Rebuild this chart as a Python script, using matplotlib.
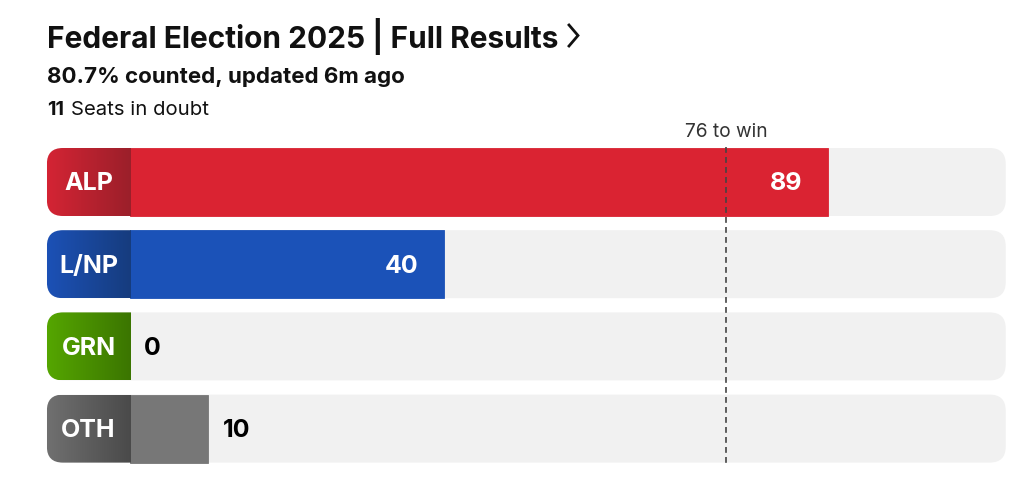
import numpy as np
import matplotlib
matplotlib.use("Agg")
import matplotlib.pyplot as plt
from matplotlib.patches import FancyBboxPatch, Rectangle
from matplotlib.colors import LinearSegmentedColormap
from matplotlib.lines import Line2D

plt.rcParams['font.family'] = ['Inter', 'DejaVu Sans']

# datos
partidos = ["ALP", "L/NP", "GRN", "OTH"]
escanos = [89, 40, 0, 10]
colores_barra = ["#da2332", "#1b52b8", "#4f9f00", "#777777"]
colores_etiqueta = [("#d42434", "#9b1f2a"), ("#1c51b6", "#163c7e"),
                    ("#55a600", "#3b7500"), ("#707070", "#4a4a4a")]
para_ganar = 76
titulo = "Federal Election 2025 | Full Results"
subtitulo = "80.7% counted, updated 6m ago"
en_duda = 11

# layout en pixeles
W, H = 1024, 481
PX = 7.84          # pixeles por escaño
X0 = 130           # pixel donde empieza el escaño 0
caja_izq = -10.6   # inicio de la caja de etiqueta (escaños)
pista_der = 111.7  # fin de la pista gris (escaños)
alto = 68
y_primera = 149
paso = 82.2
radio = 16

fig = plt.figure(figsize=(W / 100, H / 100), dpi=100)
ax = fig.add_axes([0, 0, 1, 1])
xlim = (-X0 / PX, (W - X0) / PX)
ax.axis("off")

for i, (p, v) in enumerate(zip(partidos, escanos)):
    y = y_primera + i * paso
    # pista gris
    pista = FancyBboxPatch((caja_izq, y), pista_der - caja_izq, alto,
                           boxstyle=f"round,pad=0,rounding_size={radio / PX}",
                           mutation_aspect=PX, fc="#f1f1f1", ec="none", zorder=1)
    ax.add_patch(pista)
    # barra
    if v > 0:
        ax.add_patch(Rectangle((0, y), v, alto, fc=colores_barra[i],
                               ec=colores_barra[i], lw=0.6, zorder=2))
    # caja de etiqueta con degradado
    clip = FancyBboxPatch((caja_izq, y), -caja_izq + 5, alto,
                          boxstyle=f"round,pad=0,rounding_size={radio / PX}",
                          mutation_aspect=PX, fc="none", ec="none",
                          transform=ax.transData)
    ax.add_patch(clip)
    cmap = LinearSegmentedColormap.from_list("g", colores_etiqueta[i])
    im = ax.imshow(np.linspace(0, 1, 256).reshape(1, -1), cmap=cmap,
                   extent=[caja_izq, 0, y + alto, y], aspect="auto", zorder=3)
    im.set_clip_path(clip)
    ax.text(caja_izq / 2, y + alto / 2 + 1, p, color="white", fontsize=18,
            fontweight="bold", ha="center", va="center", zorder=4)
    # valor
    if v > 12:
        ax.text(v - 25 / PX, y + alto / 2 + 1, str(v), color="white", fontsize=18,
                fontweight="bold", ha="right", va="center", zorder=4)
    else:
        ax.text(v + 14 / PX, y + alto / 2 + 1, str(v), color="black", fontsize=18,
                fontweight="bold", ha="left", va="center", zorder=4)

# linea para ganar
y_fin = y_primera + 3 * paso + alto + 3
ax.plot([para_ganar, para_ganar], [y_primera - 1, y_fin], color="#444444",
        lw=1.2, ls=(0, (3.5, 2.5)), zorder=5)
ax.text(para_ganar, y_primera - 12, f"{para_ganar} to win", color="#333333",
        fontsize=13.8, ha="center", va="baseline")

ax.set_xlim(*xlim)
ax.set_ylim(H, 0)

# titulos
fig.text(47 / W, 1 - 48 / H, titulo, fontsize=21.5, fontweight="bold",
         va="baseline", ha="left", color="#111111")
# chevron
fig.add_artist(Line2D([569 / W, 578 / W, 569 / W],
                      [1 - 26 / H, 1 - 36.5 / H, 1 - 47 / H],
                      color="#111111", lw=2, solid_joinstyle="miter"))
fig.text(47 / W, 1 - 83 / H, subtitulo, fontsize=16.1, fontweight="bold",
         va="baseline", ha="left", color="#111111")
fig.text(47 / W, 1 - 115 / H, str(en_duda), fontsize=14.3, fontweight="bold",
         va="baseline", ha="left", color="#111111")
fig.text(71 / W, 1 - 115 / H, "Seats in doubt", fontsize=14.6,
         va="baseline", ha="left", color="#111111")

fig.savefig("out.png", dpi=100)
